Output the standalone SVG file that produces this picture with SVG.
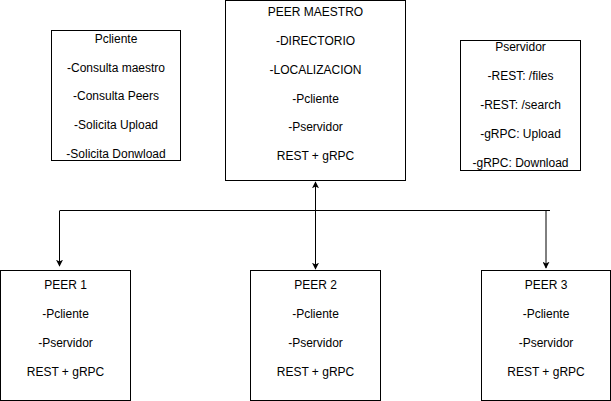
<svg xmlns="http://www.w3.org/2000/svg" width="611" height="401" viewBox="0 0 611 401">
<style>
.box{fill:#fff;stroke:#000;stroke-width:1}
.t{font-family:"Liberation Sans",Arial,sans-serif;font-size:12px;fill:#000;text-anchor:middle}
.c{fill:none;stroke:#000;stroke-width:1}
</style>
<defs>
<marker id="ah" viewBox="0 0 10 10" refX="9" refY="5" markerWidth="7" markerHeight="7" markerUnits="userSpaceOnUse" orient="auto-start-reverse">
<path d="M0,0 L10,5 L0,10 L2.5,5 Z" fill="#000"/>
</marker>
</defs>
<rect width="611" height="401" fill="#fff"/>
<g id="connectors">
<line class="c" x1="315.5" y1="182" x2="315.5" y2="269" marker-start="url(#ah)" marker-end="url(#ah)"/>
<line class="c" x1="60" y1="210.5" x2="550" y2="210.5"/>
<line class="c" x1="59.5" y1="210.5" x2="59.5" y2="266" marker-end="url(#ah)"/>
<line class="c" x1="546" y1="210.5" x2="546" y2="268" marker-end="url(#ah)"/>
</g>
<g id="pcliente">
<rect class="box" x="51.5" y="30.5" width="129" height="130"/>
<text class="t" x="116" y="43">Pcliente</text>
<text class="t" x="116" y="72">-Consulta maestro</text>
<text class="t" x="116" y="100">-Consulta Peers</text>
<text class="t" x="116" y="129">-Solicita Upload</text>
<text class="t" x="116" y="158">-Solicita Donwload</text>
</g>
<g id="maestro">
<rect class="box" x="225.5" y="0.5" width="180" height="180"/>
<text class="t" x="315.5" y="16">PEER MAESTRO</text>
<text class="t" x="315.5" y="45">-DIRECTORIO</text>
<text class="t" x="315.5" y="74">-LOCALIZACION</text>
<text class="t" x="315.5" y="103">-Pcliente</text>
<text class="t" x="315.5" y="131">-Pservidor</text>
<text class="t" x="315.5" y="160">REST + gRPC</text>
</g>
<g id="pservidor">
<rect class="box" x="460.5" y="40.5" width="120" height="130"/>
<text class="t" x="520.5" y="51">Pservidor</text>
<text class="t" x="520.5" y="80">-REST: /files</text>
<text class="t" x="520.5" y="109">-REST: /search</text>
<text class="t" x="520.5" y="138">-gRPC: Upload</text>
<text class="t" x="520.5" y="167">-gRPC: Download</text>
</g>
<g id="peer1">
<rect class="box" x="0.5" y="270.5" width="130" height="130"/>
<text class="t" x="65.5" y="289">PEER 1</text>
<text class="t" x="65.5" y="318">-Pcliente</text>
<text class="t" x="65.5" y="347">-Pservidor</text>
<text class="t" x="65.5" y="376">REST + gRPC</text>
</g>
<g id="peer2">
<rect class="box" x="250.5" y="270.5" width="130" height="130"/>
<text class="t" x="315.5" y="289">PEER 2</text>
<text class="t" x="315.5" y="318">-Pcliente</text>
<text class="t" x="315.5" y="347">-Pservidor</text>
<text class="t" x="315.5" y="376">REST + gRPC</text>
</g>
<g id="peer3">
<rect class="box" x="481.5" y="270.5" width="129" height="130"/>
<text class="t" x="546" y="289">PEER 3</text>
<text class="t" x="546" y="318">-Pcliente</text>
<text class="t" x="546" y="347">-Pservidor</text>
<text class="t" x="546" y="376">REST + gRPC</text>
</g>
</svg>
